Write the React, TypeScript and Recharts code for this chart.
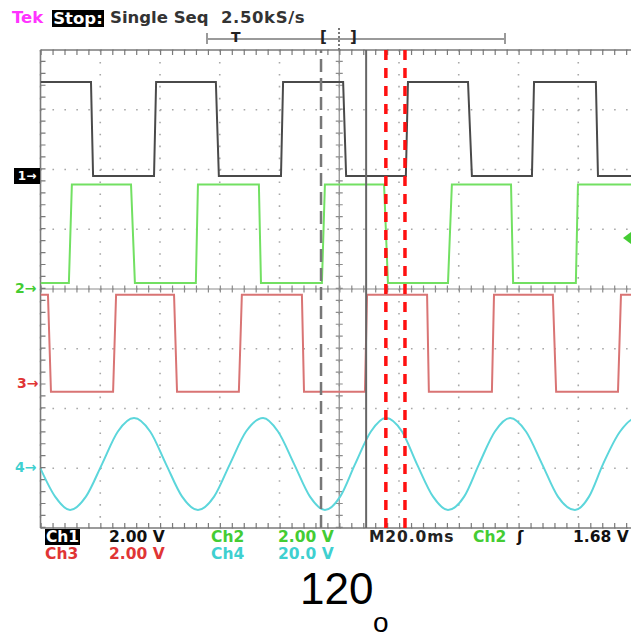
import React from 'react';
import { LineChart, Line, XAxis, YAxis, CartesianGrid, ReferenceLine } from 'recharts';

// Horizontal: time in ms (20 ms/div, 10 divisions); vertical: screen divisions
const timeTicks = [-100, -80, -60, -40, -20, 0, 20, 40, 60, 80, 100];
const divTicks = [-4, -3, -2, -1, 0, 1, 2, 3, 4];

// Channel settings
const channelIds = ['c1', 'c2', 'c3', 'c4'];
const channelNames = ['Ch1', 'Ch2', 'Ch3', 'Ch4'];
const voltsPerDiv = [2, 2, 2, 20];
const groundDiv = [1.89, 0, -1.57, -2.98];
const channelColors = ['#4a4a4a', '#72e062', '#d97474', '#5cd6db'];

// Ch1 (square wave)
const ch1Time = [-100, -83.1, -82.4, -62.0, -61.3, -41.3, -40.3, -19.5, -18.8, 1.3, 2.3, 22.3, 23.0, 43.1, 44.4, 64.5, 65.2, 85.9, 86.6, 100];
const ch1Volts = [3.15, 3.15, 0, 0, 3.15, 3.15, 0, 0, 3.15, 3.15, 0, 0, 3.15, 3.15, 0, 0, 3.15, 3.15, 0, 0];

// Ch2 (square wave)
const ch2Time = [-100, -90.5, -89.5, -69.7, -68.4, -48.0, -47.3, -26.9, -26.2, -5.8, -4.8, 15.0, 16.3, 36.4, 37.7, 57.5, 58.2, 79.2, 79.9, 100];
const ch2Volts = [0.2, 0.2, 3.5, 3.5, 0.2, 0.2, 3.5, 3.5, 0.2, 0.2, 3.5, 3.5, 0.2, 0.2, 3.5, 3.5, 0.2, 0.2, 3.5, 3.5];

// Ch3 (square wave)
const ch3Time = [-100, -97.5, -96.5, -75.7, -74.7, -55.3, -54.3, -33.6, -32.6, -12.5, -11.8, 8.6, 9.3, 29.4, 30.0, 51.1, 51.8, 71.5, 72.6, 93.3, 94.3, 100];
const ch3Volts = [2.95, 2.95, -0.3, -0.3, 2.95, 2.95, -0.3, -0.3, 2.95, 2.95, -0.3, -0.3, 2.95, 2.95, -0.3, -0.3, 2.95, 2.95, -0.3, -0.3, 2.95, 2.95];

// Ch4 (sine, read point by point)
const ch4Time = [-100, -95.1, -90.1, -84.8, -79.4, -74.1, -68.7, -63.3, -58.0, -52.6, -47.3, -41.9, -36.6, -31.2, -25.5, -20.5, -15.1, -9.8, -4.8, 0.3, 5.3, 10.6, 15.6, 21.0, 26.0, 31.4, 36.4, 41.8, 46.8, 52.1, 57.2, 62.5, 67.9, 73.2, 78.9, 83.6, 88.3, 94.0, 99.3, 100];
const ch4Volts = [-0.5, -9.9, -14.4, -9.9, 1.0, 11.9, 16.4, 11.9, 1.0, -9.9, -14.4, -9.9, 1.0, 11.9, 16.4, 11.9, 1.0, -9.9, -14.4, -9.9, 1.0, 11.9, 16.4, 11.9, 1.0, -9.9, -14.4, -9.9, 1.0, 11.9, 16.4, 11.9, 1.0, -9.9, -14.4, -9.9, 1.0, 11.9, 16.4, 16.3];

// Cursors (ms)
const grayCursor = -6.1;
const solidCursor = 9.0;
const redCursors = [15.6, 22.0];

// Readouts
const headerTexts = ['Tek', 'Stop:', 'Single Seq', '2.50kS/s'];
const scaleTexts = ['2.00 V', '2.00 V', '2.00 V', '20.0 V'];
const timebaseText = 'M20.0ms';
const triggerSource = 'Ch2';
const triggerLevel = '1.68 V';
const angleText = '120';
const degreeText = 'o';

const zip = (t: number[], v: number[]) => t.map((x, i) => ({ t: x, v: v[i] }));
const channelData = [zip(ch1Time, ch1Volts), zip(ch2Time, ch2Volts), zip(ch3Time, ch3Volts), zip(ch4Time, ch4Volts)];

const W = 700;
const H = 637;
const LEFT = 40.5;
const TOP = 50;
const PW = 597.5;
const PH = 478;

const font = '"DejaVu Sans", Verdana, sans-serif';

const abs = (left: number, top: number, extra: React.CSSProperties = {}): React.CSSProperties => ({
  position: 'absolute', left, top, whiteSpace: 'nowrap', fontFamily: font, fontWeight: 'bold', ...extra,
});

export default function App() {
  const tickOff = 2.5 / (PH / 8);
  const tickOffX = 2.5 / (PW / 200);
  const row1 = 529;
  const row2 = 546;
  const rowStyle = { fontSize: 15.5, lineHeight: '16px' };
  return (
    <div style={{ position: 'fixed', left: 0, top: 0, width: 631, height: 637, overflow: 'hidden', background: '#fff' }}>
      <div style={{ position: 'absolute', left: 0, top: 0 }}>
        <LineChart width={W} height={H} margin={{ top: TOP, left: LEFT, right: W - LEFT - PW, bottom: H - TOP - PH }}>
          <XAxis dataKey="t" type="number" domain={[-100, 100]} ticks={timeTicks} allowDataOverflow hide />
          <YAxis type="number" domain={[-4, 4]} ticks={divTicks} allowDataOverflow hide />
          {channelIds.map((id, i) => (
            <YAxis key={id} yAxisId={id} type="number" hide allowDataOverflow
              domain={[(-4 - groundDiv[i]) * voltsPerDiv[i], (4 - groundDiv[i]) * voltsPerDiv[i]]} />
          ))}
          <CartesianGrid stroke="#a8a8a8" strokeWidth={1.6} strokeDasharray="1.6 10.35" />
          {/* center axes with tick rails */}
          <ReferenceLine y={0} stroke="#8c8c8c" strokeWidth={1.2} />
          <ReferenceLine y={0} stroke="#8c8c8c" strokeWidth={7} strokeDasharray="1.2 10.75" />
          <ReferenceLine x={0} stroke="#8c8c8c" strokeWidth={1.2} />
          <ReferenceLine x={0} stroke="#8c8c8c" strokeWidth={7} strokeDasharray="1.2 10.75" />
          {/* frame with inward ticks */}
          <ReferenceLine y={4} stroke="#7a7a7a" strokeWidth={1.6} />
          <ReferenceLine y={4 - tickOff} stroke="#7a7a7a" strokeWidth={5} strokeDasharray="1.2 10.75" />
          <ReferenceLine y={-4} stroke="#7a7a7a" strokeWidth={1.6} />
          <ReferenceLine y={-4 + tickOff} stroke="#7a7a7a" strokeWidth={5} strokeDasharray="1.2 10.75" />
          <ReferenceLine x={-100} stroke="#7a7a7a" strokeWidth={1.6} />
          <ReferenceLine x={-100 + tickOffX} stroke="#7a7a7a" strokeWidth={5} strokeDasharray="1.2 10.75" />
          {channelIds.map((id, i) => (
            <Line key={id} data={channelData[i]} dataKey="v" yAxisId={id} name={channelNames[i]}
              type={i === 3 ? 'monotone' : 'linear'} stroke={channelColors[i]} strokeWidth={2}
              dot={false} isAnimationActive={false} />
          ))}
          <ReferenceLine x={grayCursor} stroke="#777" strokeWidth={2.5} strokeDasharray="13 6" />
          <ReferenceLine x={solidCursor} stroke="#666" strokeWidth={2} />
          {redCursors.map((c) => (
            <ReferenceLine key={c} x={c} stroke="#ff1010" strokeWidth={3.5} strokeDasharray="10 8" />
          ))}
        </LineChart>
      </div>

      {/* header */}
      <div style={abs(12, 9, { fontSize: 16.5, lineHeight: '18px', color: '#ff33ff' })}>{headerTexts[0]}</div>
      <div style={abs(52, 10, { fontSize: 16.5, lineHeight: '17px', color: '#fff', background: '#000', width: 52, textAlign: 'center' })}>{headerTexts[1]}</div>
      <div style={abs(110, 9, { fontSize: 16.5, lineHeight: '18px', color: '#333' })}>{headerTexts[2]}</div>
      <div style={abs(221, 9, { fontSize: 16.5, lineHeight: '18px', color: '#333', letterSpacing: 0.6 })}>{headerTexts[3]}</div>

      {/* record bar */}
      <div style={{ position: 'absolute', left: 207, top: 38, width: 298, height: 1.5, background: '#9a9a9a' }} />
      <div style={{ position: 'absolute', left: 206, top: 33, width: 1.5, height: 11, background: '#9a9a9a' }} />
      <div style={{ position: 'absolute', left: 504, top: 33, width: 1.5, height: 11, background: '#9a9a9a' }} />
      <div style={abs(231, 29, { fontSize: 14, lineHeight: '16px', color: '#222' })}>T</div>
      <div style={abs(320, 29, { fontSize: 15, lineHeight: '17px', color: '#222' })}>[</div>
      <div style={abs(350, 29, { fontSize: 15, lineHeight: '17px', color: '#222' })}>]</div>
      <div style={{ position: 'absolute', left: 338, top: 28, width: 0, height: 22, borderLeft: '2px dotted #777' }} />

      {/* channel ground markers */}
      <div style={abs(14, 168, { fontSize: 12, lineHeight: '16px', color: '#fff', background: '#000', width: 26, textAlign: 'center' })}>1→</div>
      <div style={abs(15, 280, { fontSize: 14, lineHeight: '16px', color: '#44cc33' })}>2→</div>
      <div style={abs(17, 375, { fontSize: 14, lineHeight: '16px', color: '#e03535' })}>3→</div>
      <div style={abs(15, 459, { fontSize: 14, lineHeight: '16px', color: '#3fd0d0' })}>4→</div>
      <div style={{ position: 'absolute', left: 623, top: 232, width: 0, height: 0, borderTop: '6px solid transparent', borderBottom: '6px solid transparent', borderRight: '8px solid #44cc33' }} />

      {/* readouts */}
      <div style={abs(45, row1, { ...rowStyle, color: '#fff', background: '#000', width: 35, textAlign: 'center' })}>{channelNames[0]}</div>
      <div style={abs(109, row1, { ...rowStyle, color: '#111' })}>{scaleTexts[0]}</div>
      <div style={abs(211, row1, { ...rowStyle, color: '#44cc33' })}>{channelNames[1]}</div>
      <div style={abs(278, row1, { ...rowStyle, color: '#44cc33' })}>{scaleTexts[1]}</div>
      <div style={abs(369, row1, { ...rowStyle, color: '#222', letterSpacing: 0.9 })}>{timebaseText}</div>
      <div style={abs(473, row1, { ...rowStyle, color: '#44cc33' })}>{triggerSource}</div>
      <div style={abs(517, row1, { ...rowStyle, color: '#111' })}>ʃ</div>
      <div style={abs(573, row1, { ...rowStyle, color: '#111' })}>{triggerLevel}</div>
      <div style={abs(45, row2, { ...rowStyle, color: '#e03535' })}>{channelNames[2]}</div>
      <div style={abs(109, row2, { ...rowStyle, color: '#e03535' })}>{scaleTexts[2]}</div>
      <div style={abs(211, row2, { ...rowStyle, color: '#3fd0d0' })}>{channelNames[3]}</div>
      <div style={abs(278, row2, { ...rowStyle, color: '#3fd0d0' })}>{scaleTexts[3]}</div>

      {/* annotation */}
      <div style={{ position: 'absolute', left: 300, top: 567, fontFamily: '"Liberation Sans", Arial, sans-serif', fontSize: 44, lineHeight: '44px', color: '#000' }}>{angleText}</div>
      <div style={{ position: 'absolute', left: 373, top: 611, fontFamily: '"Liberation Sans", Arial, sans-serif', fontSize: 28, lineHeight: '24px', color: '#000' }}>{degreeText}</div>
    </div>
  );
}
